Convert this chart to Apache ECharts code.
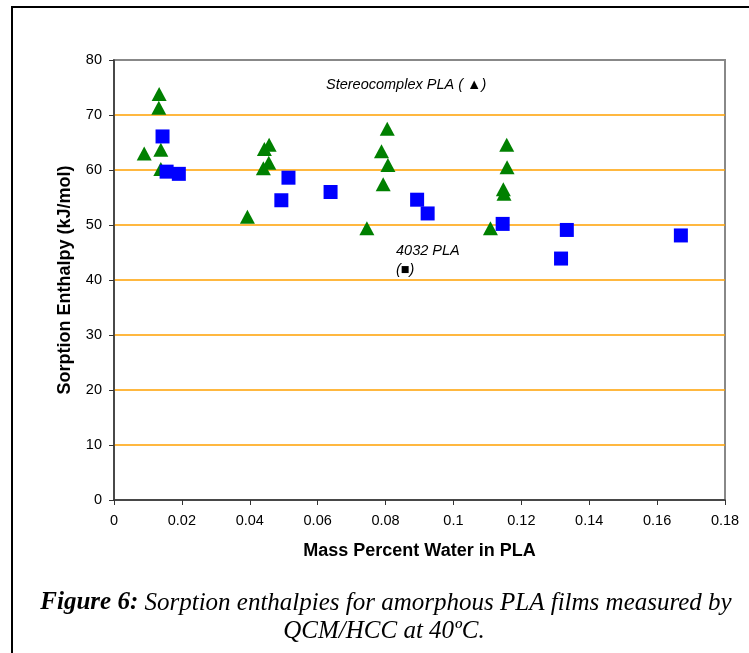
<!DOCTYPE html>
<html>
<head>
<meta charset="utf-8">
<script src="https://cdn.jsdelivr.net/npm/echarts@6/dist/echarts.min.js"></script>
<style>
html,body{margin:0;padding:0;background:#fff;}
#chart{width:749px;height:653px;}
</style>
</head>
<body>
<div id="chart"></div>
<script>
// Stereocomplex PLA (triangles)
const stereoX = [0.0133, 0.0132, 0.0089, 0.0138, 0.0138, 0.0457, 0.0443, 0.0456, 0.0440, 0.0393,
                 0.0805, 0.0788, 0.0807, 0.0793, 0.0745, 0.1109, 0.1157, 0.1158, 0.1147, 0.1149];
const stereoY = [73.8, 71.3, 63.0, 63.7, 60.2, 64.6, 63.8, 61.3, 60.3, 51.5,
                 67.5, 63.4, 60.9, 57.4, 49.4, 49.4, 64.6, 60.5, 56.5, 55.7];
// 4032 PLA (squares)
const pla4032X = [0.0143, 0.0155, 0.0191, 0.0514, 0.0493, 0.0638, 0.0893, 0.0924, 0.1145, 0.1334, 0.1317, 0.1670];
const pla4032Y = [66.1, 59.7, 59.3, 58.6, 54.5, 56.0, 54.6, 52.1, 50.2, 49.1, 43.9, 48.1];

const xTicks = [0, 0.02, 0.04, 0.06, 0.08, 0.1, 0.12, 0.14, 0.16, 0.18];
const yTicks = [0, 10, 20, 30, 40, 50, 60, 70, 80];

const xTitle = 'Mass Percent Water in PLA';
const yTitle = 'Sorption Enthalpy (kJ/mol)';
const captionBold = 'Figure 6:';
const captionLine1 = ' Sorption enthalpies for amorphous PLA films measured by';
const captionLine2 = 'QCM/HCC at 40ºC.';
const stereoLabel = 'Stereocomplex PLA ( \u25B2)';
const plaLabel1 = '4032 PLA';
const plaLabel2 = '(\u25A0)';

const zip = (xs, ys) => xs.map((x, i) => [x, ys[i]]);

const chart = echarts.init(document.getElementById('chart'));

chart.setOption({
  animation: false,
  backgroundColor: '#ffffff',
  grid: {left: 114, right: 24, top: 60, bottom: 153, show: true, borderColor: '#888888', borderWidth: 2, backgroundColor: 'transparent'},
  xAxis: {
    type: 'value', min: xTicks[0], max: xTicks[xTicks.length - 1], interval: 0.02,
    name: xTitle, nameLocation: 'middle', nameGap: 42,
    nameTextStyle: {fontFamily: 'Liberation Sans', fontWeight: 'bold', fontSize: 18, color: '#000'},
    axisLine: {show: true, lineStyle: {color: '#333', width: 1.5}},
    axisTick: {show: true, length: 5, lineStyle: {color: '#333'}},
    axisLabel: {fontFamily: 'Liberation Sans', fontSize: 14.5, color: '#000', margin: 13,
      formatter: v => String(parseFloat(v.toFixed(2)))},
    splitLine: {show: false}
  },
  yAxis: {
    type: 'value', min: yTicks[0], max: yTicks[yTicks.length - 1], interval: 10,
    name: yTitle, nameLocation: 'middle', nameGap: 40,
    nameTextStyle: {fontFamily: 'Liberation Sans', fontWeight: 'bold', fontSize: 18, color: '#000'},
    axisLine: {show: true, lineStyle: {color: '#333', width: 1.5}},
    axisTick: {show: true, length: 5, lineStyle: {color: '#333'}},
    axisLabel: {fontFamily: 'Liberation Sans', fontSize: 14.5, color: '#000', margin: 12},
    splitLine: {show: true, showMinLine: false, showMaxLine: false, lineStyle: {color: '#FFA000', width: 1.6}}
  },
  series: [
    {
      name: 'Stereocomplex PLA', type: 'scatter', symbol: 'triangle', symbolSize: [15, 14],
      itemStyle: {color: '#008000', opacity: 1}, data: zip(stereoX, stereoY), z: 3
    },
    {
      name: '4032 PLA', type: 'scatter', symbol: 'rect', symbolSize: 14,
      itemStyle: {color: '#0000FF', opacity: 1}, data: zip(pla4032X, pla4032Y), z: 4
    }
  ],
  graphic: [
    {type: 'rect', shape: {x: 12, y: 7, width: 800, height: 700}, style: {fill: 'none', stroke: '#000', lineWidth: 2}, silent: true, z: 100},
    {type: 'text', x: 326, y: 85, style: {text: stereoLabel, verticalAlign: 'middle', font: 'italic 14.5px "Liberation Sans"', fill: '#000'}},
    {type: 'text', x: 396, y: 251, style: {text: plaLabel1, verticalAlign: 'middle', font: 'italic 14.5px "Liberation Sans"', fill: '#000'}},
    {type: 'text', x: 396, y: 270, style: {text: plaLabel2, verticalAlign: 'middle', font: 'italic 14.5px "Liberation Sans"', fill: '#000'}},
    {type: 'text', x: 386, y: 603, style: {
      text: '{b|' + captionBold + '}{n|' + captionLine1 + '}', align: 'center', verticalAlign: 'middle',
      rich: {
        b: {fontFamily: 'Liberation Serif', fontStyle: 'italic', fontWeight: 'bold', fontSize: 25, fill: '#000'},
        n: {fontFamily: 'Liberation Serif', fontStyle: 'italic', fontSize: 25, fill: '#000'}
      }}},
    {type: 'text', x: 384, y: 631, style: {text: captionLine2, align: 'center', verticalAlign: 'middle',
      font: 'italic 25px "Liberation Serif"', fill: '#000'}}
  ]
});
</script>
</body>
</html>
